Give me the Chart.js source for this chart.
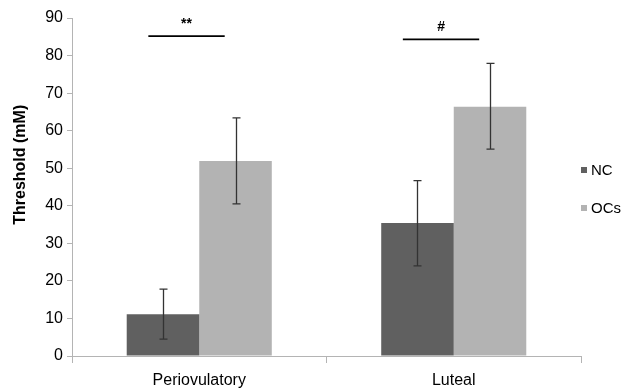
<!DOCTYPE html>
<html>
<head>
<meta charset="utf-8">
<script src="https://cdn.jsdelivr.net/npm/chart.js@4"></script>
<style>
  html, body { margin: 0; padding: 0; background: #fff; }
  #wrap { width: 624px; height: 392px; }
</style>
</head>
<body>
<div id="wrap"><canvas id="chart"></canvas></div>
<script>
// values
var phases = ['Periovulatory', 'Luteal'];
var ncMean = [11.1, 35.4];
var ncLow = [4.5, 24.0];
var ncHigh = [17.8, 46.7];
var ocMean = [51.9, 66.4];
var ocLow = [40.5, 55.1];
var ocHigh = [63.4, 77.9];
var sigMarks = ['**', '#'];
var sigLevel = [85.2, 84.3];

var axisGrey = '#b4b4b4';
var font = 'Arial, "Liberation Sans", sans-serif';

// whiskers drawn from the low/high arrays
var errorBars = {
    id: 'errorBars',
    afterDatasetsDraw: function(chart) {
        var ctx = chart.ctx, y = chart.scales.y;
        ctx.save();
        ctx.strokeStyle = '#333';
        ctx.lineWidth = 1.3;
        chart.data.datasets.forEach(function(ds, i) {
            chart.getDatasetMeta(i).data.forEach(function(bar, j) {
                var top = y.getPixelForValue(ds.errHigh[j]);
                var bot = y.getPixelForValue(ds.errLow[j]);
                var x = Math.round(bar.x) + 0.5;
                ctx.beginPath();
                ctx.moveTo(x, top); ctx.lineTo(x, bot);
                ctx.moveTo(x - 4, top); ctx.lineTo(x + 4, top);
                ctx.moveTo(x - 4, bot); ctx.lineTo(x + 4, bot);
                ctx.stroke();
            });
        });
        ctx.restore();
    }
};

// significance bars above each phase
var sigBars = {
    id: 'sigBars',
    afterDatasetsDraw: function(chart) {
        var ctx = chart.ctx, x = chart.scales.x, y = chart.scales.y;
        var cw = x.width / phases.length;
        ctx.save();
        ctx.strokeStyle = '#000';
        ctx.fillStyle = '#000';
        ctx.lineWidth = 1.8;
        ctx.font = 'bold 14px ' + font;
        ctx.textAlign = 'center';
        ctx.textBaseline = 'middle';
        sigMarks.forEach(function(mark, i) {
            var cx = x.getPixelForValue(i);
            var x0 = cx - 0.2 * cw, x1 = cx + 0.1 * cw;
            var py = y.getPixelForValue(sigLevel[i]);
            ctx.beginPath();
            ctx.moveTo(x0, py); ctx.lineTo(x1, py);
            ctx.stroke();
            ctx.fillText(mark, (x0 + x1) / 2, py - 12);
        });
        ctx.restore();
    }
};

// small square legend on the right
var sideLegend = {
    id: 'sideLegend',
    afterDraw: function(chart) {
        var ctx = chart.ctx, area = chart.chartArea;
        ctx.save();
        ctx.font = '15px ' + font;
        ctx.textBaseline = 'middle';
        chart.data.datasets.forEach(function(ds, i) {
            var yy = 170 + i * 38;
            ctx.fillStyle = ds.backgroundColor;
            ctx.fillRect(area.right, yy - 3, 6, 6);
            ctx.fillStyle = '#000';
            ctx.fillText(ds.label, area.right + 10, yy + 1);
        });
        ctx.restore();
    }
};

document.addEventListener('DOMContentLoaded', function() {
    var ctx = document.getElementById('chart').getContext('2d');
    new Chart(ctx, {
        type: 'bar',
        data: {
            labels: phases,
            datasets: [
                { label: 'NC', data: ncMean, errLow: ncLow, errHigh: ncHigh, backgroundColor: '#606060' },
                { label: 'OCs', data: ocMean, errLow: ocLow, errHigh: ocHigh, backgroundColor: '#b3b3b3' }
            ]
        },
        options: {
            responsive: true,
            maintainAspectRatio: false,
            animation: false,
            layout: { padding: { top: 18, right: 43, bottom: 0, left: 0 } },
            datasets: { bar: { categoryPercentage: 0.57, barPercentage: 1.0 } },
            plugins: { legend: { display: false }, tooltip: { enabled: false } },
            scales: {
                x: {
                    grid: { drawOnChartArea: false, color: axisGrey, tickLength: 7 },
                    border: { color: axisGrey },
                    ticks: { color: '#000', padding: 8, font: { size: 16, family: font } },
                    afterFit: function(s) { s.height = 36; }
                },
                y: {
                    min: 0, max: 90,
                    ticks: { stepSize: 10, color: '#000', padding: 4, font: { size: 16, family: font } },
                    grid: { drawOnChartArea: false, color: axisGrey, tickLength: 5 },
                    border: { color: axisGrey },
                    title: {
                        display: true,
                        text: '          Threshold (mM)',
                        color: '#000',
                        font: { size: 16, weight: 'bold', family: font },
                        padding: { top: 11, bottom: 0 }
                    },
                    afterFit: function(s) { s.width = 72; }
                }
            }
        },
        plugins: [errorBars, sigBars, sideLegend]
    });
});
</script>
</body>
</html>
